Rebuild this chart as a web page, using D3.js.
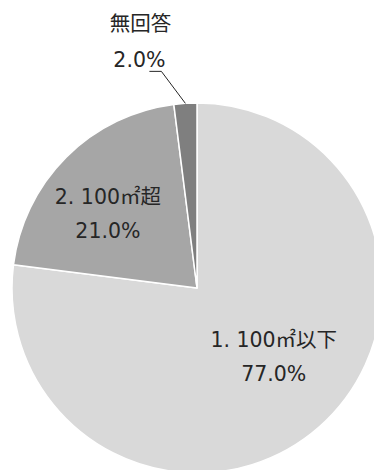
<!DOCTYPE html>
<html>
<head>
<meta charset="utf-8">
<script src="https://cdn.jsdelivr.net/npm/d3@7"></script>
<style>
  html, body { margin: 0; padding: 0; background: #fff; }
  svg { display: block; }
  text { font-family: "DejaVu Sans", "Noto Sans CJK JP", sans-serif; fill: #262626; }
</style>
</head>
<body>
<svg id="chart" width="374" height="470"></svg>
<script>
// Floor-area breakdown
const categories = ["1. 100㎡以下", "2. 100㎡超", "無回答"];
const values = [77.0, 21.0, 2.0];
const sliceColors = ["#d9d9d9", "#a6a6a6", "#7f7f7f"];

const cx = 197, cy = 288, R = 185;

const svg = d3.select("#chart");
const g = svg.append("g").attr("transform", `translate(${cx},${cy})`);

const pie = d3.pie().sort(null).value(d => d.value);
const arcs = pie(categories.map((c, i) => ({ name: c, value: values[i], color: sliceColors[i] })));

const arc = d3.arc().innerRadius(0).outerRadius(R);

g.selectAll("path.slice")
  .data(arcs)
  .join("path")
  .attr("class", "slice")
  .attr("d", arc)
  .attr("fill", d => d.data.color)
  .attr("stroke", "#fff")
  .attr("stroke-width", 1.5)
  .attr("stroke-linejoin", "round");

const fmt = v => v.toFixed(1) + "%";
const fs = 20.5;

// Inside labels for the two large slices
const inside = [
  { i: 0, r: 0.57, dx: 7, dy: -14 },
  { i: 1, r: 0.62, dx: -8, dy: 3 }
];
inside.forEach(o => {
  const a = arcs[o.i];
  const mid = (a.startAngle + a.endAngle) / 2;
  const x = Math.sin(mid) * R * o.r + o.dx;
  const y = -Math.cos(mid) * R * o.r + o.dy;
  const t = g.append("text")
    .attr("text-anchor", "middle")
    .attr("font-size", fs);
  t.append("tspan").attr("x", x).attr("y", y - 6).text(a.data.name);
  t.append("tspan").attr("x", x).attr("y", y + 28).text(fmt(a.data.value));
});

// Outside label with leader line for the small slice
{
  const a = arcs[2];
  const mid = (a.startAngle + a.endAngle) / 2;
  const p0 = [Math.sin(mid) * R, -Math.cos(mid) * R];
  const elbow = [p0[0] - 24, p0[1] - 32];
  const end = [elbow[0] - 12, elbow[1]];
  g.append("polyline")
    .attr("points", [p0, elbow, end].map(p => p.join(",")).join(" "))
    .attr("fill", "none")
    .attr("stroke", "#262626")
    .attr("stroke-width", 1);
  const lx = end[0] - 10;
  const t = g.append("text")
    .attr("text-anchor", "middle")
    .attr("font-size", fs);
  t.append("tspan").attr("x", lx + 1).attr("y", end[1] - 40).text(a.data.name);
  t.append("tspan").attr("x", lx).attr("y", end[1] - 4).text(fmt(a.data.value));
}
</script>
</body>
</html>
